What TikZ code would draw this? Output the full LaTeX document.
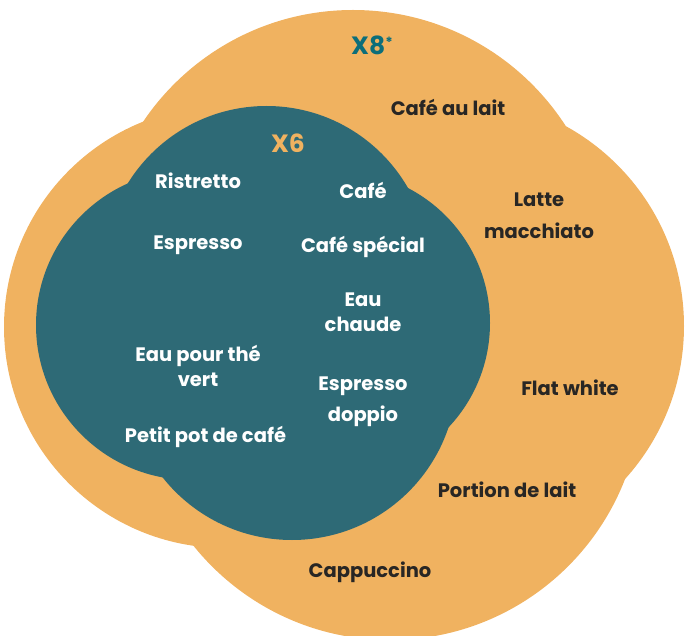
\documentclass[tikz,border=0pt]{standalone}
\usepackage{fontspec}
\setmainfont{Poppins}
\definecolor{orng}{RGB}{240,178,96}
\definecolor{tealc}{RGB}{46,106,118}
\definecolor{xeight}{RGB}{12,110,122}
\definecolor{dtext}{RGB}{40,38,36}
\begin{document}
\begin{tikzpicture}[x=1pt,y=-1pt,
  lbl/.style={font=\bfseries\fontsize{19.5}{25}\selectfont,align=center,inner sep=0pt},
  inlbl/.style={lbl,text=white},
  outlbl/.style={lbl,text=dtext},
  title/.style={lbl,font=\bfseries\fontsize{25}{30}\selectfont},
  blob/.style={fill=orng,draw=none},
  core/.style={fill=tealc,draw=none}]
\useasboundingbox (0,0) rectangle (686,636);
\clip (0,0) rectangle (686,636);
% outer orange shape
\fill[blob] (353,263) circle[radius=253];
\fill[blob] (225,327) circle[radius=221];
\fill[blob] (456,326) circle[radius=228];
\fill[blob] (390,388) circle[radius=252];
% inner teal shape
\fill[core] (266.5,269) circle[radius=163];
\fill[core] (191,325) circle[radius=155];
\fill[core] (338,323) circle[radius=152];
\fill[core] (292,375) circle[radius=165];
% titles
\node[title,text=xeight] (x8) at (372,45) {X8\raisebox{0.5ex}{\fontsize{14}{14}\selectfont *}};
\node[title,text=orng] (x6) at (288,143) {X6};
% inner labels
\node[inlbl] (ristretto) at (198,181) {Ristretto};
\node[inlbl] (cafe) at (363,190) {Café};
\node[inlbl] (espresso) at (198,245) {Espresso};
\node[inlbl] (cafespecial) at (363,247) {Café spécial};
\node[inlbl] (eauchaude) at (363,312) {Eau\\chaude};
\node[inlbl] (eauthe) at (198,366) {Eau pour thé\\vert};
\node[inlbl] (doppio) at (363,402) {Espresso\\[6pt]doppio};
\node[inlbl] (petitpot) at (205.5,437) {Petit pot de café};
% outer labels
\node[outlbl] (aulait) at (448,107) {Café au lait};
\node[outlbl] (latte) at (539,216) {Latte\\[7pt]macchiato};
\node[outlbl] (flat) at (570,388) {Flat white};
\node[outlbl] (portion) at (507,490) {Portion de lait};
\node[outlbl] (cappu) at (370,572) {Cappuccino};
\end{tikzpicture}
\end{document}
